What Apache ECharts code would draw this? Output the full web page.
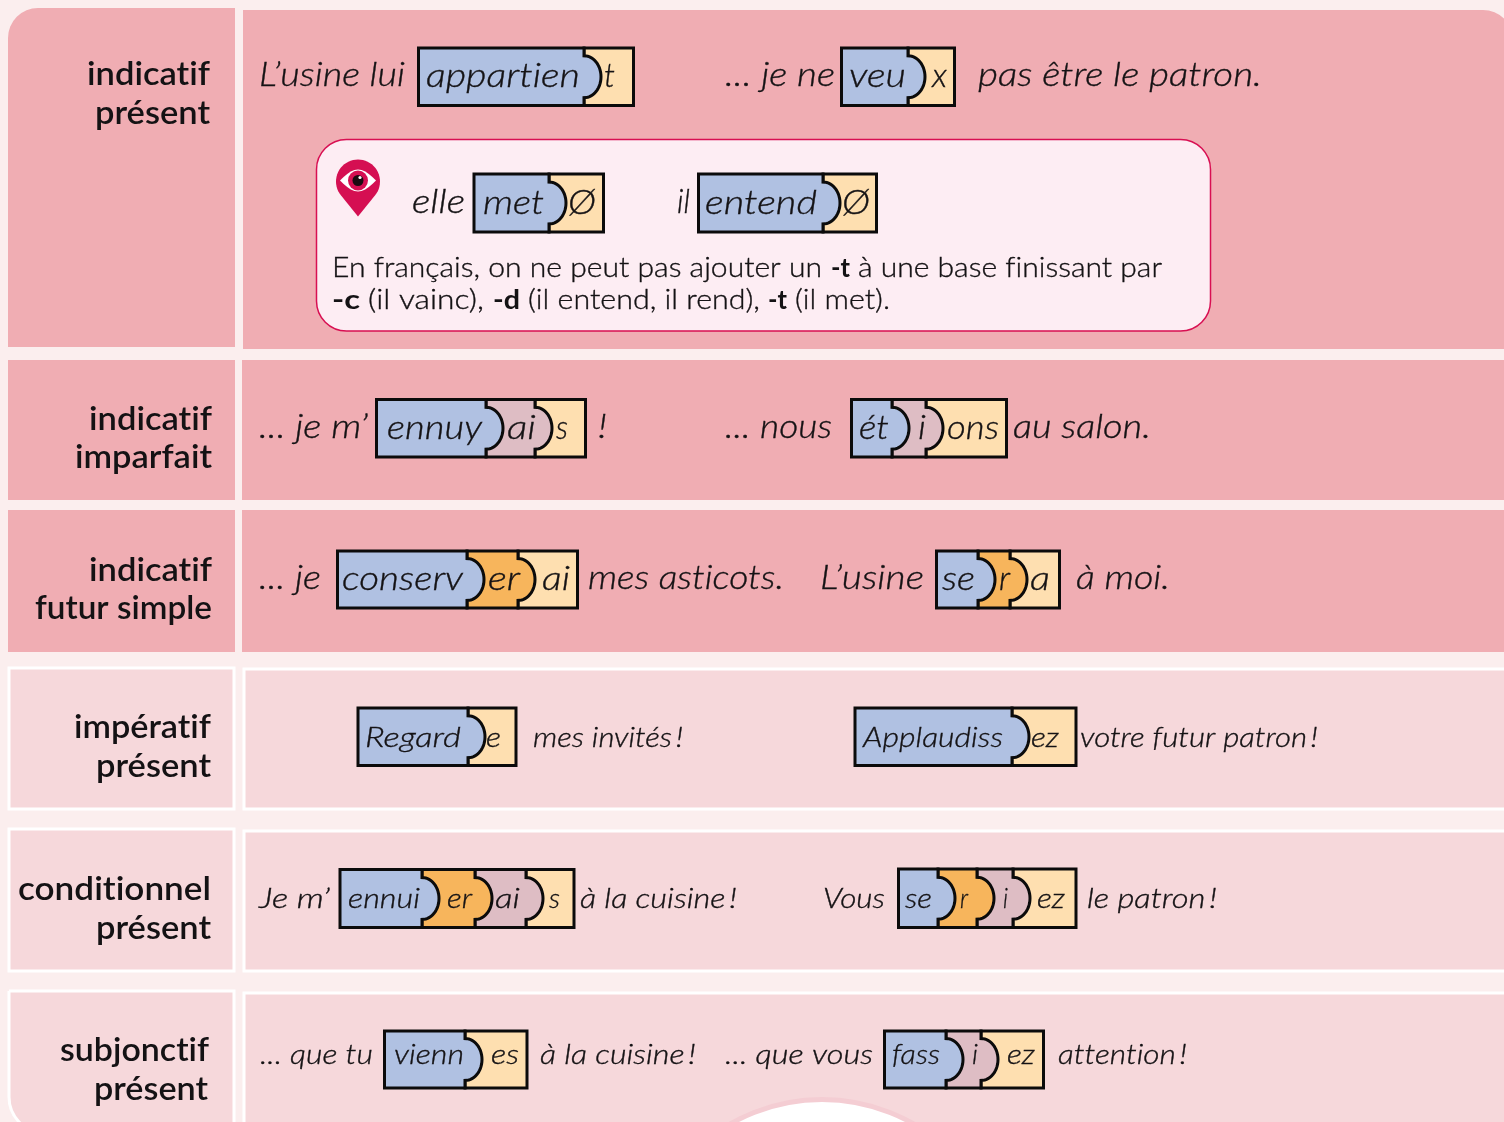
<!DOCTYPE html>
<html><head><meta charset="utf-8">
<style>html,body{margin:0;padding:0;background:#FBEEEE}#c{width:1504px;height:1122px}</style>
<script src="https://cdn.jsdelivr.net/npm/echarts@6/dist/echarts.min.js"></script>
</head><body><div id="c"></div>
<script>
// ---------- content ----------
const moodLines = ['indicatif','présent','indicatif','imparfait','indicatif','futur simple','impératif','présent','conditionnel','présent','subjonctif','présent'];
const sentenceWords = ['L’usine lui','... je ne','pas être le patron.','elle','il',
  '... je m’','!','... nous','au salon.',
  '... je','mes asticots.','L’usine','à moi.',
  'mes invités\u2009!','votre futur patron\u2009!',
  'Je m’','à la cuisine\u2009!','Vous','le patron\u2009!',
  '... que tu','à la cuisine\u2009!','... que vous','attention\u2009!'];
const noteWords = ['En français, on ne peut pas ajouter un','-t','à une base finissant par','-c','(il vainc),','-d','(il entend, il rend),','-t','(il met).'];
const noteBold = [0,1,0,1,0,1,0,1,0];
const puzzleMorphemes = [['appartien','t'],['veu','x'],['met','Ø'],['entend','Ø'],
  ['ennuy','ai','s'],['ét','i','ons'],['conserv','er','ai'],['se','r','a'],
  ['Regard','e'],['Applaudiss','ez'],['ennui','er','ai','s'],['se','r','i','ez'],
  ['vienn','es'],['fass','i','ez']];
const puzzleKinds = [['base','end'],['base','end'],['base','end'],['base','end'],
  ['base','tense','end'],['base','tense','end'],['base','fut','end'],['base','fut','end'],
  ['base','end'],['base','end'],['base','fut','tense','end'],['base','fut','tense','end'],
  ['base','end'],['base','tense','end']];
// ---------- layout (positions and sizes, kept apart from the content) ----------
const moodSpans = [[87,210,74.5],[95,210,113.5],[89,212,419.5],[75,212,457.5],[89,212,570.5],[35,212,608.5],[74,211,727.5],[96,211,766.5],[18,211,889.5],[96,211,928.5],[60,209,1050.5],[94,208,1089.5]];
const sentenceSpans = [[259,405,75,33],[725,835,75,33],[978,1262,75,33],[412,465,202.5,33],[677,690,202.5,33],
  [259,368,427,33],[598,607,427,33],[725,832,427,33],[1013,1151,427,33],
  [259,321,578,33],[588,784,578,33],[820,924,578,33],[1076,1170,578,33],
  [533,683,738,27],[1080,1318,738,27],
  [259,330,899,27],[580,737,899,27],[823,885,899,27],[1087,1217,899,27],
  [260,373,1055,27],[540,696,1055,27],[725,873,1055,27],[1058,1187,1055,27]];
const noteSpans = [[332,822,268],[831,850,268],[858,1162,268],[332,360,300],[368,484,300],[493,520,300],[528,760,300],[768,787,300],[795,890,300]];
const puzzleBoxes = [[418.5,633.5,48,105.5,[584]],[841.5,954.5,48,105.5,[908]],[474,603.5,174,232,[549]],[698.5,876.5,174,232,[823]],
  [376.5,585.5,399.5,457,[486,535]],[851.5,1006.5,399.5,457,[892,926]],[337.5,577.5,551,608,[467,518]],[936.5,1059.5,551,608,[978,1010]],
  [358,516,708,765.5,[468]],[855,1076,708,765.5,[1012]],[340,574,869.5,927.5,[422,475,526]],[898.5,1076,869,927.5,[938,977,1013]],
  [384.5,527,1031,1088,[465]],[884.5,1043.5,1031,1088,[946,981]]];
const puzzleTextY = [76,76,203.5,203.5,428,428,579,579,737.5,737.5,899,899,1055,1055];
const puzzleTextSpans = [[[426,580],[604,615]],[[849,906],[932,947]],[[483,544],[568,596]],[[705,817],[842,870]],
  [[387,482],[507,536],[556,568]],[[859,889],[918,926],[947,999]],[[342,463],[488,520],[542,570]],[[942,975],[999,1010],[1030,1050]],
  [[365,461],[486,501]],[[863,1003],[1031,1059]],[[348,420],[447,472],[495,520],[549,560]],[[905,932],[960,968],[1003,1008],[1037,1065]],
  [[394,464],[491,519]],[[892,940],[972,978],[1007,1035]]];
const puzzleFont = [33,33,33,33,33,33,33,33,28,28,28,28,28,28];
const panelRects = [[8,8,227,339,'dark',[30,0,0,0]],[243,10,1270,339,'dark',[0,30,0,0]],
  [8,360,227,140,'dark',0],[242,360,1270,140,'dark',0],
  [8,510,227,142,'dark',0],[242,510,1270,142,'dark',0],
  [9,668,225,141,'light',0],[244,669,1270,140,'light',0],
  [9,829,225,142,'light',0],[244,831,1270,140,'light',0],
  [9,991,225,142,'light',[0,0,0,36]],[244,993,1270,140,'light',0]];
// ---------- styles ----------
const SANS = 'Lato, "Open Sans", sans-serif';
const INK = '#141214';
const panelFill = {dark:'#F0ADB3', light:'#F6D8DB'};
const kindFill = {base:'#B0C1E2', tense:'#DEBDC4', fut:'#F7B55C', end:'#FEDFB0'};
const BUMP_W = 17, BUMP_H = 21;

const ctx = document.createElement('canvas').getContext('2d');
ctx.textRendering = 'optimizeSpeed';
function fitText(api, text, x0, x1, yc, size, weight, style){
  const font = `${style} ${weight} ${size}px ${SANS}`;
  ctx.font = font;
  const w = ctx.measureText(text).width || 1;
  const p = api.coord([x0, yc]);
  const thin = weight === 300;
  return {type:'text', x:p[0], y:p[1], scaleX:(x1-x0)/w,
    style:{text, font, fill:INK, stroke:thin?INK:null, lineWidth:thin?0.35:0, textAlign:'left', textVerticalAlign:'middle'}};
}
function piecePoints(api, left, right, top, bottom, hasBump){
  const pts = [[left,top],[right,top]];
  if (hasBump){
    const mid=(top+bottom)/2;
    for(let i=0;i<=28;i++){
      const t=-Math.PI/2+Math.PI*i/28;
      pts.push([right+BUMP_W*Math.cos(t), mid+BUMP_H*Math.sin(t)]);
    }
  }
  pts.push([right,bottom],[left,bottom]);
  return pts.map(q=>api.coord(q));
}
function renderPanel(params, api){
  const r = panelRects[api.value(0)];
  const a = api.coord([r[0],r[1]]), b = api.coord([r[0]+r[2],r[1]+r[3]]);
  const light = r[4]==='light';
  return {type:'rect', shape:{x:a[0],y:a[1],width:b[0]-a[0],height:b[1]-a[1],r:r[5]},
    style:{fill:panelFill[r[4]], stroke:light?'#FFFFFF':null, lineWidth:light?3:0}};
}
function renderPuzzle(params, api){
  const i = api.value(0), box = puzzleBoxes[i], kinds = puzzleKinds[i];
  const edges = [box[0], ...box[4], box[1]];
  const children = [];
  for(let k=kinds.length-1;k>=0;k--){
    children.push({type:'polygon',
      shape:{points:piecePoints(api,edges[k],edges[k+1],box[2],box[3],k<kinds.length-1)},
      style:{fill:kindFill[kinds[k]], stroke:'#0b0b0b', lineWidth:3, lineJoin:'miter'}});
  }
  puzzleMorphemes[i].forEach((m,k)=>{
    const s=puzzleTextSpans[i][k];
    children.push(fitText(api,m,s[0],s[1],puzzleTextY[i],puzzleFont[i],300,'italic'));
  });
  return {type:'group',children};
}
function renderMood(params, api){
  const i=api.value(0), s=moodSpans[i];
  return fitText(api,moodLines[i],s[0],s[1],s[2],32,600,'normal');
}
function renderSentence(params, api){
  const i=api.value(0), s=sentenceSpans[i];
  return fitText(api,sentenceWords[i],s[0],s[1],s[2],s[3],300,'italic');
}
function renderNote(params, api){
  const i=api.value(0), s=noteSpans[i];
  return fitText(api,noteWords[i],s[0],s[1],s[2],27,noteBold[i]?700:300,'normal');
}
function renderCallout(params, api){
  const a=api.coord([316.5,139.5]), b=api.coord([1210.5,331]);
  const c=api.coord([358,181.5]), tip=api.coord([358,216.5]);
  const R=22, drop=[];
  const ang=Math.acos(R/(tip[1]-c[1]));
  for(let i=0;i<=40;i++){
    const t=Math.PI/2+ang+(2*Math.PI-2*ang)*i/40;
    drop.push([c[0]+R*Math.cos(t),c[1]+R*Math.sin(t)]);
  }
  drop.push(tip);
  const lens=[];
  for(let i=0;i<=20;i++){const t=i/20,x=-18+36*t;lens.push([c[0]+x,c[1]-1-11*Math.sin(Math.PI*t)]);}
  for(let i=1;i<20;i++){const t=1-i/20,x=-18+36*t;lens.push([c[0]+x,c[1]-1+11*Math.sin(Math.PI*t)]);}
  return {type:'group',children:[
    {type:'rect',shape:{x:a[0],y:a[1],width:b[0]-a[0],height:b[1]-a[1],r:30},style:{fill:'#FDEDF3',stroke:'#D80F52',lineWidth:1.5}},
    {type:'polygon',shape:{points:drop},style:{fill:'#D50F52'}},
    {type:'polygon',shape:{points:lens},style:{fill:'#FFFFFF'}},
    {type:'circle',shape:{cx:c[0],cy:c[1]-1,r:10},style:{fill:'#D50F52'}},
    {type:'circle',shape:{cx:c[0],cy:c[1]-1,r:5.5},style:{fill:'#1a0a10'}},
    {type:'circle',shape:{cx:c[0]+2,cy:c[1]-4,r:1.6},style:{fill:'#FFFFFF'}}
  ]};
}
function renderBlob(params, api){
  const p=api.coord([822,1284]);
  return {type:'circle',shape:{cx:p[0],cy:p[1],r:184.5},style:{fill:'#FFFFFF',stroke:'#F4CDD3',lineWidth:5}};
}
const idx = a => a.map((_,i)=>[i]);
const custom = (name,render,data,z) => ({type:'custom',name,coordinateSystem:'cartesian2d',renderItem:render,data,z,silent:true,clip:false,encode:{x:0,y:0},animation:false});
const chart = echarts.init(document.getElementById('c'),null,{renderer:'canvas'});
// plain glyphs, without the Lato ti/tt ligatures the reference does not have
const layer = chart.getZr().painter.getLayer(0);
if (layer && layer.ctx) layer.ctx.textRendering = 'optimizeSpeed';
chart.setOption({
  animation:false,
  backgroundColor:'#FBEEEE',
  grid:{left:0,right:0,top:0,bottom:0,containLabel:false},
  xAxis:{type:'value',min:0,max:1504,show:false},
  yAxis:{type:'value',min:0,max:1122,inverse:true,show:false},
  tooltip:{show:false},
  series:[
    custom('panels',renderPanel,idx(panelRects),1),
    custom('blob',renderBlob,[[0]],2),
    custom('callout',renderCallout,[[0]],3),
    custom('puzzles',renderPuzzle,idx(puzzleMorphemes),4),
    custom('moods',renderMood,idx(moodLines),5),
    custom('sentences',renderSentence,idx(sentenceWords),5),
    custom('note',renderNote,idx(noteWords),5)
  ]
});
</script></body></html>
